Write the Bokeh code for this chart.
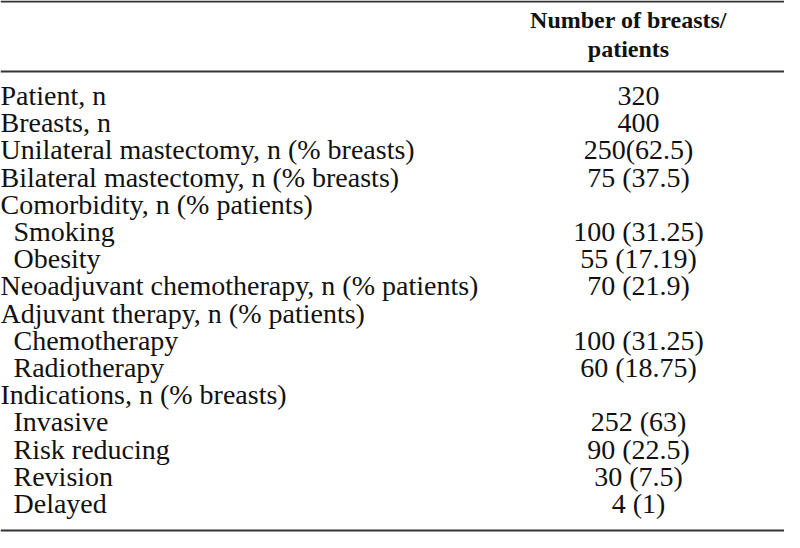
from bokeh.plotting import figure
from bokeh.models import Range1d, ColumnDataSource
from bokeh.core.properties import value
from bokeh.embed import file_html
from bokeh.resources import INLINE

header = ["Number of breasts/", "patients"]
labels = [
    "Patient, n",
    "Breasts, n",
    "Unilateral mastectomy, n (% breasts)",
    "Bilateral mastectomy, n (% breasts)",
    "Comorbidity, n (% patients)",
    "Smoking",
    "Obesity",
    "Neoadjuvant chemotherapy, n (% patients)",
    "Adjuvant therapy, n (% patients)",
    "Chemotherapy",
    "Radiotherapy",
    "Indications, n (% breasts)",
    "Invasive",
    "Risk reducing",
    "Revision",
    "Delayed",
]
indent = [0, 0, 0, 0, 0, 1, 1, 0, 0, 1, 1, 0, 1, 1, 1, 1]
values = [
    "320", "400", "250(62.5)", "75 (37.5)", "", "100 (31.25)", "55 (17.19)",
    "70 (21.9)", "", "100 (31.25)", "60 (18.75)", "", "252 (63)", "90 (22.5)",
    "30 (7.5)", "4 (1)",
]

W, H = 784, 532
p = figure(width=W, height=H, output_backend="svg", toolbar_location=None,
           x_range=Range1d(0, W), y_range=Range1d(H, 0), min_border=0)
p.axis.visible = False
p.grid.visible = False
p.outline_line_color = None
p.background_fill_color = "white"
p.border_fill_color = "white"

FONT = value("Liberation Serif")
FS = "28px"
row0, step = 95, 27.2
col_x = 638

ys = [row0 + i * step for i in range(len(labels))]
xs = [13 * k for k in indent]

p.text(x=xs, y=ys, text=labels, text_font=FONT, text_font_size=FS,
       text_baseline="middle", text_align="left", text_color="#111111")
p.text(x=[col_x] * len(values), y=ys, text=values, text_font=FONT, text_font_size=FS,
       text_baseline="middle", text_align="center", text_color="#111111")
p.text(x=[628, 628], y=[19, 48], text=header, text_font=FONT, text_font_size="24px",
       text_font_style="bold", text_baseline="middle", text_align="center",
       text_color="#111111")

rules = ColumnDataSource(dict(x0=[0, 0, 0], x1=[W, W, W], y=[1, 71, 530]))
p.segment(x0="x0", x1="x1", y0="y", y1="y", source=rules, line_color="#333333",
          line_width=2)

open("out.html", "w").write(file_html(p, INLINE))
